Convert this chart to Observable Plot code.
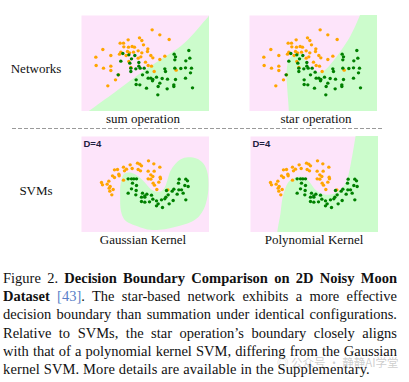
<!DOCTYPE html>
<html><head><meta charset="utf-8">
<script src="https://cdn.jsdelivr.net/npm/d3@7"></script>
<script src="https://cdn.jsdelivr.net/npm/@observablehq/plot@0.6"></script>
<style>
body{margin:0;background:#fff;}
#fig{position:relative;width:409px;height:382px;overflow:hidden;font-family:"Liberation Serif","Times New Roman",serif;color:#111;}
.panel{position:absolute;width:128px;height:96px;}
.panel svg{display:block;}
.lbl{position:absolute;font-size:13px;white-space:nowrap;transform:translate(-50%,-50%);line-height:1;}
.dash{position:absolute;left:12px;top:128px;width:370px;height:1px;background:repeating-linear-gradient(to right,#9a9a9a 0 4px,transparent 4px 6px);}
#cap{position:absolute;left:3px;top:269px;width:394px;font-size:14.5px;}
#cap div{height:18.2px;line-height:18.2px;white-space:nowrap;}
#cap .j{text-align:justify;text-align-last:justify;white-space:normal;overflow:hidden;}
#cap .last{letter-spacing:0.13px;}
#cap .ref{color:#5a7fc8;}
#wm{position:absolute;left:277px;top:357px;font-family:"Noto Sans CJK SC",sans-serif;font-size:11.5px;line-height:1;color:rgba(110,110,110,0.35);white-space:nowrap;}
</style></head>
<body>
<div id="fig">
  <div class="panel" id="p1" style="left:81px;top:15px"></div>
  <div class="panel" id="p2" style="left:249px;top:15px"></div>
  <div class="panel" id="p3" style="left:81px;top:136px"></div>
  <div class="panel" id="p4" style="left:250px;top:136px"></div>
  <div class="lbl" style="left:36px;top:68px">Networks</div>
  <div class="lbl" style="left:36px;top:190px">SVMs</div>
  <div class="lbl" style="left:143px;top:118px">sum operation</div>
  <div class="lbl" style="left:316px;top:118px">star operation</div>
  <div class="lbl" style="left:143px;top:239px">Gaussian Kernel</div>
  <div class="lbl" style="left:314px;top:239px">Polynomial Kernel</div>
  <div class="dash"></div>
  <div id="cap">
    <div class="j">Figure 2. <b>Decision Boundary Comparison on 2D Noisy Moon</b></div>
    <div class="j"><b>Dataset</b> <span class="ref">[43]</span>. The star-based network exhibits a more effective</div>
    <div class="j">decision boundary than summation under identical configurations.</div>
    <div class="j">Relative to SVMs, the star operation’s boundary closely aligns</div>
    <div class="j">with that of a polynomial kernel SVM, differing from the Gaussian</div>
    <div class="last">kernel SVM. More details are available in the Supplementary.</div>
  </div>
  <div id="wm">◎ 公众号 · 静静AI学堂</div>
</div>
<script>
const topOrange = [[212,43],[235,58],[263,72],[174,67],[181,75],[140,73],[116,83],[126,83],[186,88],[127,94],[141,95],[152,93],[159,95],[199,100],[64,102],[118,110],[138,108],[144,112],[170,106],[181,112],[198,108],[114,116],[88,120],[134,120],[178,124],[208,120],[214,127],[43,125],[235,132],[250,122],[142,138],[192,140],[44,150],[66,158],[88,152],[148,156],[200,150],[210,152],[88,165],[218,168],[284,164],[111,178],[102,193],[79,211],[170,128],[156,110]];
const topGreen = [[322,105],[278,116],[282,124],[325,128],[313,136],[280,133],[124,114],[142,118],[160,120],[150,130],[118,137],[172,141],[145,143],[148,158],[163,160],[176,158],[188,158],[250,160],[252,168],[280,158],[298,159],[312,157],[330,158],[327,172],[148,168],[197,170],[183,178],[110,178],[200,188],[208,188],[214,192],[225,185],[242,189],[258,191],[282,192],[312,188],[164,193],[213,196],[235,203],[164,207],[175,208],[230,213],[277,208],[277,213],[195,218],[257,220],[333,217],[229,238],[172,152]];
const bottomOrange = [[201,73],[217,82],[168,80],[175,83],[146,85],[180,88],[126,92],[135,98],[152,96],[170,99],[177,103],[99,100],[108,99],[235,92],[200,104],[129,103],[93,118],[112,113],[113,118],[99,123],[208,115],[214,120],[236,122],[237,127],[200,127],[126,131],[82,134],[208,128],[60,138],[215,140],[232,137],[77,143],[219,146],[86,150],[83,155],[95,159],[85,164],[91,175],[226,159],[259,160],[63,145],[218,104]];
const bottomGreen = [[140,127],[150,127],[157,127],[165,127],[153,140],[165,147],[150,157],[164,162],[293,128],[313,128],[318,133],[291,140],[310,147],[320,150],[277,158],[292,160],[300,160],[255,162],[140,170],[163,175],[183,170],[196,173],[180,182],[190,182],[210,176],[305,170],[287,173],[260,175],[253,182],[214,188],[225,193],[240,190],[250,187],[275,192],[313,190],[180,195],[190,197],[230,202],[225,208],[263,202],[243,213],[204,196],[272,164],[190,178]];

// Decision boundaries (green-class region outlines)
const sumBoundary = [[-20,320],[20,288],[100,230],[160,185],[210,150],[260,118],[300,90],[340,50],[375,10],[400,-15],[700,-15],[700,320]];
const starBoundary = [[118,320],[118,287],[113,215],[111,175],[117,135],[128,120],[145,112],[158,120],[171,140],[188,160],[205,170],[223,166],[248,140],[273,107],[298,70],[318,30],[331,0],[340,-20],[700,-20],[700,320]];
const gaussBoundary = [[128,112],[145,108],[162,114],[178,126],[192,140],[205,155],[220,164],[237,165],[250,152],[258,130],[266,105],[280,84],[298,68],[320,62],[345,66],[365,80],[377,105],[381,140],[378,180],[368,215],[350,242],[325,258],[295,268],[265,275],[235,280],[205,280],[175,272],[148,262],[128,248],[118,222],[116,180],[117,145]];
const polyBoundary = [[78,320],[80,288],[90,230],[95,190],[103,160],[115,135],[130,125],[150,120],[165,125],[180,140],[195,160],[210,170],[230,175],[250,172],[270,160],[285,140],[295,110],[303,70],[310,30],[315,0],[318,-20],[700,-20],[700,320]];

const PINK = "#fde4fa", LIGHTGREEN = "#ccfccc", ORANGE = "#ffa500", DARKGREEN = "#008000";

function panel(orange, green, region, closed, tag) {
  const marks = [
    Plot.frame({fill: PINK, stroke: "none"}),
    Plot.line(region, {x: d => d[0], y: d => d[1], fill: LIGHTGREEN, stroke: "none", curve: closed ? "catmull-rom-closed" : "catmull-rom", clip: true}),
    Plot.dot(orange, {x: d => d[0], y: d => d[1], r: 1.7, fill: ORANGE}),
    Plot.dot(green, {x: d => d[0], y: d => d[1], r: 1.7, fill: DARKGREEN})
  ];
  if (tag) marks.push(Plot.text([tag], {frameAnchor: "top-left", dx: 2, dy: 4, text: d => d, fontSize: 9.5, fontWeight: "bold", fontFamily: "Liberation Sans, Arial, sans-serif", fill: "#1e2040"}));
  return Plot.plot({
    width: 128, height: 96, margin: 0,
    style: {background: "transparent"},
    x: {domain: [0, 384], axis: null},
    y: {domain: [0, 288], reverse: true, axis: null},
    marks
  });
}
document.getElementById("p1").appendChild(panel(topOrange, topGreen, sumBoundary, false));
document.getElementById("p2").appendChild(panel(topOrange, topGreen, starBoundary, false));
document.getElementById("p3").appendChild(panel(bottomOrange, bottomGreen, gaussBoundary, true, "D=4"));
document.getElementById("p4").appendChild(panel(bottomOrange, bottomGreen, polyBoundary, false, "D=4"));
</script>
</body></html>
